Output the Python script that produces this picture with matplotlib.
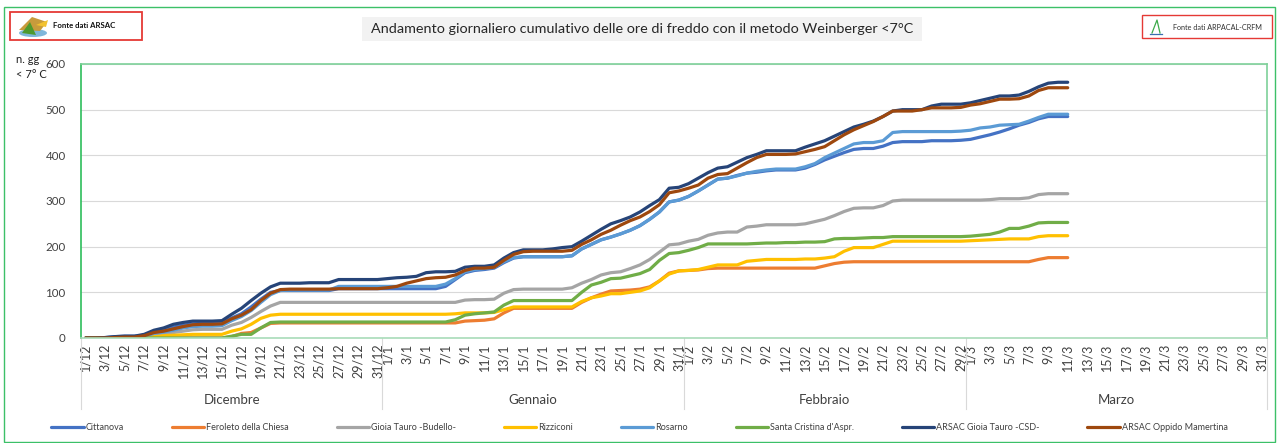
import matplotlib.pyplot as plt
from matplotlib.patches import Rectangle, Polygon, Ellipse
from matplotlib.lines import Line2D
import matplotlib.transforms as mtransforms

plt.rcParams['font.family'] = ['Lato', 'DejaVu Sans']

# ---------------------------------
# Data (cumulative cold days, 1/12 -> 11/3)
# ---------------------------------
months = ["Dicembre", "Gennaio", "Febbraio", "Marzo"]
month_num = [12, 1, 2, 3]
month_len = [31, 31, 29, 31]
day_labels = [f"{d}/{m}" for m, n in zip(month_num, month_len) for d in range(1, n + 1)]

series_names = [
    "Cittanova", "Feroleto della Chiesa", "Gioia Tauro -Budello-", "Rizziconi",
    "Rosarno", "Santa Cristina d'Aspr.", "ARSAC Gioia Tauro -CSD-", "ARSAC Oppido Mamertina",
]

cittanova = [
    0, 0, 1, 3, 4, 4, 6, 14, 18, 24, 28, 31, 32, 32, 33, 44, 53, 68, 85, 100, 104, 104, 104, 104, 104, 104, 108, 108, 108, 108, 108,
    108, 108, 108, 108, 108, 108, 113, 128, 143, 148, 150, 153, 165, 175, 178, 178, 178, 178, 178, 180, 195, 205, 215, 221, 228, 236, 246, 260, 276, 298, 302,
    310, 322, 335, 348, 350, 356, 361, 363, 366, 368, 368, 368, 372, 380, 390, 398, 406, 413, 415, 415, 420, 428, 430, 430, 430, 432, 432, 432, 433,
    435, 440, 445, 451, 458, 466, 472, 480, 485, 485, 485,
]
feroleto = [
    0, 0, 0, 0, 0, 0, 0, 0, 0, 0, 0, 0, 0, 0, 0, 3, 10, 12, 22, 32, 33, 33, 33, 33, 33, 33, 33, 33, 33, 33, 33,
    33, 33, 33, 33, 33, 33, 33, 33, 37, 38, 39, 42, 55, 65, 65, 65, 65, 65, 65, 65, 78, 88, 96, 103, 104, 105, 107, 112, 125, 142, 147,
    148, 149, 152, 153, 153, 153, 153, 153, 153, 153, 153, 153, 153, 153, 158, 163, 166, 167, 167, 167, 167, 167, 167, 167, 167, 167, 167, 167, 167,
    167, 167, 167, 167, 167, 167, 167, 172, 176, 176, 176,
]
budello = [
    0, 0, 0, 0, 1, 1, 2, 5, 8, 12, 15, 18, 19, 19, 19, 28, 34, 45, 58, 70, 78, 78, 78, 78, 78, 78, 78, 78, 78, 78, 78,
    78, 78, 78, 78, 78, 78, 78, 78, 83, 84, 84, 85, 98, 106, 107, 107, 107, 107, 107, 110, 120, 128, 138, 143, 145, 152, 160, 172, 188, 204, 206,
    212, 216, 225, 230, 232, 232, 243, 245, 248, 248, 248, 248, 250, 255, 260, 268, 277, 284, 285, 285, 290, 300, 302, 302, 302, 302, 302, 302, 302,
    302, 302, 303, 305, 305, 305, 307, 314, 316, 316, 316,
]
rizziconi = [
    0, 0, 0, 0, 0, 0, 1, 3, 5, 6, 7, 8, 8, 8, 8, 15, 20, 30, 43, 50, 52, 52, 52, 52, 52, 52, 52, 52, 52, 52, 52,
    52, 52, 52, 52, 52, 52, 52, 53, 55, 55, 55, 56, 62, 68, 68, 68, 68, 68, 68, 68, 80, 88, 92, 97, 97, 100, 103, 110, 125, 140, 147,
    148, 150, 155, 160, 160, 160, 168, 170, 172, 172, 172, 172, 173, 173, 175, 178, 190, 198, 198, 198, 205, 212, 212, 212, 212, 212, 212, 212, 212,
    213, 214, 215, 216, 217, 217, 217, 222, 224, 224, 224,
]
rosarno = [
    0, 0, 0, 1, 2, 2, 4, 10, 13, 17, 22, 25, 26, 26, 27, 38, 47, 60, 78, 95, 104, 105, 105, 105, 105, 105, 113, 113, 113, 113, 113,
    113, 113, 113, 113, 113, 113, 118, 130, 145, 150, 152, 155, 167, 176, 178, 178, 178, 178, 178, 180, 195, 205, 215, 221, 228, 236, 246, 260, 276, 298, 302,
    310, 322, 335, 348, 350, 355, 361, 365, 368, 370, 370, 370, 375, 382, 395, 405, 415, 425, 428, 428, 432, 450, 452, 452, 452, 452, 452, 452, 453,
    455, 460, 462, 466, 467, 468, 475, 483, 490, 490, 490,
]
santa_cristina = [
    0, 0, 0, 0, 0, 0, 0, 0, 0, 0, 0, 0, 0, 0, 0, 4, 8, 8, 22, 34, 35, 35, 35, 35, 35, 35, 35, 35, 35, 35, 35,
    35, 35, 35, 35, 35, 35, 35, 40, 50, 53, 55, 57, 72, 82, 82, 82, 82, 82, 82, 82, 100, 116, 122, 130, 131, 136, 141, 150, 170, 185, 187,
    192, 198, 206, 206, 206, 206, 206, 207, 208, 208, 209, 209, 210, 210, 211, 217, 218, 218, 219, 220, 220, 222, 222, 222, 222, 222, 222, 222, 222,
    223, 225, 227, 232, 240, 240, 245, 252, 253, 253, 253,
]
arsac_gioia = [
    0, 0, 1, 3, 4, 4, 8, 17, 22, 30, 34, 37, 37, 37, 38, 52, 65, 82, 98, 112, 120, 120, 120, 121, 121, 121, 128, 128, 128, 128, 128,
    130, 132, 133, 135, 143, 145, 145, 146, 155, 157, 157, 160, 175, 187, 193, 193, 193, 195, 198, 200, 212, 225, 238, 250, 257, 265, 276, 290, 303, 328, 330,
    338, 350, 362, 372, 375, 385, 395, 402, 410, 410, 410, 410, 418, 425, 432, 442, 452, 462, 468, 475, 485, 497, 500, 500, 500, 508, 512, 512, 512,
    515, 520, 525, 530, 530, 532, 540, 550, 558, 560, 560,
]
arsac_oppido = [
    0, 0, 0, 1, 2, 2, 5, 12, 15, 20, 25, 29, 30, 30, 31, 42, 50, 62, 82, 98, 106, 107, 107, 107, 107, 107, 108, 108, 108, 108, 108,
    110, 113, 120, 125, 130, 132, 133, 138, 148, 153, 153, 155, 170, 183, 189, 190, 190, 190, 190, 192, 205, 215, 227, 236, 247, 257, 265, 277, 292, 318, 322,
    328, 335, 350, 358, 360, 372, 384, 395, 402, 402, 402, 403, 408, 413, 419, 432, 445, 456, 465, 474, 485, 497, 497, 497, 500, 504, 504, 504, 505,
    510, 513, 518, 523, 523, 524, 530, 542, 548, 548, 548,
]

all_series = [cittanova, feroleto, budello, rizziconi, rosarno, santa_cristina, arsac_gioia, arsac_oppido]
colors = ["#4472C4", "#ED7D31", "#A5A5A5", "#FFC000", "#5B9BD5", "#70AD47", "#264478", "#9E480E"]

# ---------------------------------
# Figure
# ---------------------------------
W, H = 1279, 443
fig = plt.figure(figsize=(W / 100, H / 100), dpi=100)
ax = fig.add_axes([81 / W, 1 - 338 / H, (1267 - 81) / W, (338 - 64) / H])

handles = []
for name, vals, col in zip(series_names, all_series, colors):
    ln, = ax.plot(range(len(vals)), vals, color=col, lw=2.3, label=name,
                  solid_joinstyle="round", solid_capstyle="round")
    handles.append(ln)

ax.set_xlim(-0.5, len(day_labels) - 0.5)
ax.set_ylim(0, 600)
ax.set_yticks(range(0, 601, 100))
ax.yaxis.grid(True, color="#D9D9D9", lw=0.8)
ax.set_axisbelow(True)
ax.tick_params(axis="y", length=0, pad=11, labelsize=8.3, labelcolor="#404040")

ticks = [i for i, lab in enumerate(day_labels) if int(lab.split("/")[0]) % 2 == 1]
ax.set_xticks(ticks)
ax.set_xticklabels([day_labels[i] for i in ticks], rotation=90, fontsize=9, color="#404040")
ax.tick_params(axis="x", length=0, pad=4)

ax.spines["left"].set_color("#2DBE5B")
ax.spines["top"].set_color("#7ED19A")
ax.spines["right"].set_color("#7ED19A")
ax.spines["bottom"].set_color("#A9DCB9")
for s in ax.spines.values():
    s.set_linewidth(1.2)

# month groups under the axis
blend = mtransforms.blended_transform_factory(ax.transData, ax.transAxes)
start = -0.5
for name, n in zip(months, month_len):
    ax.plot([start, start], [0, -0.26], transform=blend, color="#D9D9D9", lw=0.8, clip_on=False)
    ax.text(start + n / 2, -0.225, name, transform=blend, ha="center", va="center",
            fontsize=9.5, color="#404040")
    start += n
ax.plot([start, start], [0, -0.26], transform=blend, color="#D9D9D9", lw=0.8, clip_on=False)

# y label
fig.text(16 / W, 1 - 54 / H, "n. gg\n< 7° C", ha="left", va="top", fontsize=8,
         color="#202020", linespacing=1.45)

# title
fig.add_artist(Rectangle((362 / W, 1 - 41 / H), 560 / W, 24 / H, transform=fig.transFigure,
                         facecolor="#F2F2F2", edgecolor="none"))
fig.text(642 / W, 1 - 29 / H,
         "Andamento giornaliero cumulativo delle ore di freddo con il metodo Weinberger <7°C",
         ha="center", va="center", fontsize=10.4, color="#262626")

# logo boxes
fig.add_artist(Rectangle((10 / W, 1 - 40 / H), 132 / W, 28 / H, transform=fig.transFigure,
                         fill=False, edgecolor="#E53935", lw=1.3))
fig.text(53 / W, 1 - 26 / H, "Fonte dati ARSAC", fontsize=5.6, va="center", color="#101010",
         fontweight="bold")
fig.add_artist(Ellipse((33 / W, 1 - 33 / H), 28 / W, 8 / H, transform=fig.transFigure,
                       facecolor="#7FB7DA", edgecolor="none"))
fig.add_artist(Polygon([(19 / W, 1 - 30 / H), (32 / W, 1 - 17 / H), (47 / W, 1 - 22 / H), (40 / W, 1 - 31 / H)],
                       closed=True, transform=fig.transFigure, facecolor="#C89B3C", edgecolor="none"))
fig.add_artist(Polygon([(22 / W, 1 - 33 / H), (30 / W, 1 - 22 / H), (36 / W, 1 - 35 / H)],
                       closed=True, transform=fig.transFigure, facecolor="#4E9A2E", edgecolor="none"))
fig.add_artist(Polygon([(36 / W, 1 - 25 / H), (48 / W, 1 - 20 / H), (46 / W, 1 - 27 / H)],
                       closed=True, transform=fig.transFigure, facecolor="#F2C230", edgecolor="none"))

fig.add_artist(Rectangle((1142 / W, 1 - 38 / H), 130 / W, 23 / H, transform=fig.transFigure,
                         fill=False, edgecolor="#E53935", lw=1.0))
fig.text(1173 / W, 1 - 28 / H, "Fonte dati ARPACAL-CRFM", fontsize=5.2, va="center", color="#303030")
fig.add_artist(Line2D([1152 / W, 1157 / W, 1160 / W], [1 - 33 / H, 1 - 20 / H, 1 - 33 / H],
                      transform=fig.transFigure, color="#3DAA4A", lw=0.9))
fig.add_artist(Line2D([1150 / W, 1162 / W], [1 - 34 / H, 1 - 34 / H],
                      transform=fig.transFigure, color="#3A6FB0", lw=0.9))

# outer border
fig.add_artist(Rectangle((4 / W, 1 / H), 1271 / W, (443 - 8) / H, transform=fig.transFigure,
                         fill=False, edgecolor="#3CC068", lw=1.0))

# legend
fig.legend(handles, series_names, loc="center", bbox_to_anchor=(0.5, 1 - 428 / H), ncol=8,
           frameon=False, fontsize=6.5, handlelength=3.6, columnspacing=5.3, handletextpad=0.2,
           labelcolor="#404040")

fig.savefig("out.png", dpi=100)
